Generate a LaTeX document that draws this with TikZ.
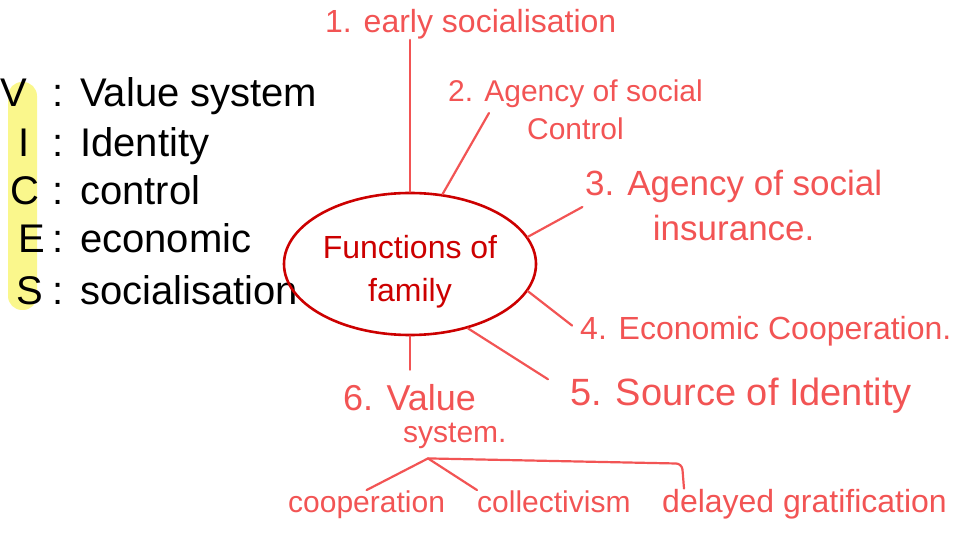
\documentclass[tikz,border=0pt]{standalone}
\usepackage{fontspec}
\setmainfont{Liberation Sans}
\definecolor{ArmRed}{RGB}{242,84,84}
\definecolor{HubRed}{RGB}{204,0,0}
\definecolor{HiYellow}{RGB}{250,247,140}
\usetikzlibrary{calc,shapes.geometric}

\begin{document}
\begin{tikzpicture}[
    x=1pt, y=-1pt,
    hub/.style={draw=HubRed, ellipse, line width=2.6pt, text=HubRed, inner sep=0pt,
      minimum width=252pt, minimum height=142pt, align=center,
      font=\fontsize{32}{43}\selectfont},
    lbl/.style 2 args={text=ArmRed, inner sep=0pt, align=center, font=\fontsize{#1}{#2}\selectfont},
    key/.style={inner sep=0pt, font=\fontsize{40}{48}\selectfont},
    arm/.style={ArmRed, line width=2.2pt, line cap=round}
  ]
    \useasboundingbox (0,0) rectangle (974,534);
    \fill[HiYellow, rounded corners=14pt] (8,82) rectangle (37,310);
    \foreach \c/\w/\y/\cx in {V/Value system/107/14, I/Identity/157/24, C/control/205/25,
        E/economic/253/32, S/socialisation/305/30}{
      \node[key, anchor=base] (k\c) at (\cx,\y) {\c};
      \node[key, anchor=base] (d\c) at (58,\y) {:};
      \node[key, anchor=base west] (w\c) at (80,\y) {\w};
    }

    \node[hub] (fam) at (410,264) {\rule{0pt}{38pt}Functions of\\family};

    \node[lbl={32}{40}, anchor=base west] (l1) at (325,33) {1. early socialisation};
    \node[lbl={30}{38}, anchor=north west] (l2) at (448,80) {2. Agency of social\\Control};
    \node[lbl={35}{45}, anchor=north west] (l3) at (585,170) {3. Agency of social\\insurance.};
    \node[lbl={32}{40}, anchor=base west] (l4) at (580,340) {4. Economic Cooperation.};
    \node[lbl={38}{46}, anchor=base west] (l5) at (570,405) {5. Source of Identity};
    \node[lbl={36}{44}, anchor=base west] (l6) at (343,410) {6. Value};
    \node[lbl={30}{38}, anchor=base west] (l6b) at (403,442) {system.};
    \node[lbl={30}{36}, anchor=base west] (s1) at (288,512) {cooperation};
    \node[lbl={30}{36}, anchor=base west] (s2) at (477,512) {collectivism};
    \node[lbl={32}{38}, anchor=base west] (s3) at (662,512) {delayed gratification};

    \coordinate (e2) at ($(l2.north west)+(41,33)$);
    \coordinate (e5) at ($(l5.north west)+(-22,2)$);
    \coordinate (vj) at ($(l6b.south west)+(25,10)$);
    \coordinate (vk) at ($(s3.north west)+(20,-25)$);
    \coordinate (vm) at ($(s3.north west)+(22,0)$);

    \draw[arm] (fam.north) -- (fam.north |- l1.south);
    \draw[arm] (fam.65) -- (e2);
    \draw[arm, shorten >=3pt] (fam.13) -- (l3.west);
    \draw[arm, shorten >=10pt] (fam.-13) -- (l4.west);
    \draw[arm] (fam.-48) -- (e5);
    \draw[arm, shorten >=14pt] (fam.south) -- (fam.south |- l6.north);
    \draw[arm] (vj) -- (s1.north);
    \draw[arm] (vj) -- (s2.north west);
    \draw[arm, rounded corners=6pt] (vj) -- (vk) -- (vm);
\end{tikzpicture}
\end{document}
